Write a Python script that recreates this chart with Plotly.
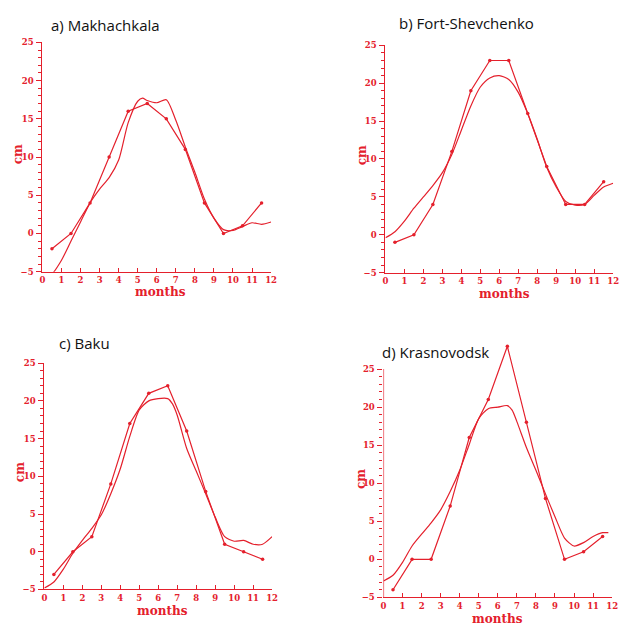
import plotly.graph_objects as go

# ---------------- data ----------------
months_obs = [0.5, 1.5, 2.5, 3.5, 4.5, 5.5, 6.5, 7.5, 8.5, 9.5, 10.5, 11.5]

titles = ["a) Makhachkala", "b) Fort-Shevchenko", "c) Baku", "d) Krasnovodsk"]

obs_a = [-2, 0, 4, 10, 16, 17, 15, 11, 4, 0, 1, 4]
obs_b = [-1, 0, 4, 11, 19, 23, 23, 16, 9, 4, 4, 7]
obs_c = [-3, 0, 2, 9, 17, 21, 22, 16, 8, 1, 0, -1]
obs_d = [-4, 0, 0, 7, 16, 21, 28, 18, 8, 0, 1, 3]

fit_x_a = [0, 0.5, 1, 1.5, 2, 2.5, 3, 3.5, 4, 4.5, 5, 5.25, 5.5, 6, 6.5, 7, 7.5, 8, 8.5, 9, 9.5, 10, 10.5, 11, 11.5, 12]
fit_a = [-5.8, -5.3, -3.5, -1.0, 1.5, 4.0, 5.8, 7.3, 9.6, 14.5, 17.3, 17.7, 17.4, 17.1, 17.5, 14.8, 11.3, 8.0, 4.5, 2.0, 0.5, 0.4, 0.9, 1.4, 1.2, 1.5]

fit_x_b = [0, 0.5, 1, 1.5, 2, 2.5, 3, 3.5, 4, 4.5, 5, 5.5, 6, 6.5, 7, 7.5, 8, 8.5, 9, 9.5, 10, 10.5, 11, 11.5, 12]
fit_b = [-0.4, 0.4, 1.8, 3.5, 5.0, 6.5, 8.2, 10.6, 13.8, 17.0, 19.5, 20.7, 21.0, 20.5, 18.8, 16.0, 12.6, 8.9, 6.3, 4.4, 3.9, 4.0, 5.2, 6.3, 6.8]

fit_x_c = [0, 0.5, 1, 1.5, 2, 2.5, 3, 3.5, 4, 4.5, 5, 5.5, 6, 6.5, 6.75, 7, 7.5, 8, 8.5, 9, 9.5, 10, 10.5, 11, 11.5, 12]
fit_c = [-4.8, -4.0, -2.3, -0.2, 1.5, 3.1, 4.9, 7.7, 11.0, 15.3, 18.8, 20.0, 20.3, 20.3, 19.6, 18.1, 13.7, 10.7, 7.7, 4.6, 2.0, 1.4, 1.5, 1.0, 1.0, 2.0]

fit_x_d = [0, 0.5, 1, 1.5, 2, 2.5, 3, 3.5, 4, 4.5, 5, 5.5, 6, 6.5, 6.75, 7, 7.5, 8, 8.5, 9, 9.5, 10, 10.5, 11, 11.5, 11.8]
fit_d = [-2.85, -2.1, -0.4, 1.75, 3.3, 4.8, 6.5, 8.9, 11.7, 15.1, 18.5, 19.8, 20.0, 20.2, 19.6, 18.1, 14.7, 11.7, 8.6, 5.6, 2.8, 1.75, 2.2, 3.0, 3.5, 3.5]

x_ticks = list(range(0, 13))
y_ticks = [-5, 0, 5, 10, 15, 20, 25]
y_minor = list(range(-5, 26))

# ---------------- layout geometry (pixels) ----------------
W, H = 629, 625
RED = "rgb(228,32,44)"

panels = [
    dict(l=40, r=272, top=38, bot=271, ymax=25, tx=47, ty=20, cmx=15, cmy=152, mx=160, my=292),
    dict(l=388, r=619, top=41, bot=272, ymax=25, tx=400, ty=18, cmx=364, cmy=153, mx=509, my=294),
    dict(l=42, r=273, top=364, bot=594, ymax=25, tx=55, ty=343, cmx=18, cmy=475, mx=162, my=616),
    dict(l=386, r=618, top=344.5, bot=602, ymax=28.3, tx=382, ty=353, cmx=363, cmy=482, mx=502, my=624),
]

obs_all = [obs_a, obs_b, obs_c, obs_d]
fits = [(fit_x_a, fit_a), (fit_x_b, fit_b), (fit_x_c, fit_c), (fit_x_d, fit_d)]

fig = go.Figure()
layout = dict(
    width=W, height=H, margin=dict(l=0, r=0, t=0, b=0),
    paper_bgcolor="white", plot_bgcolor="white", showlegend=False,
)
annotations = []
shapes = []

tickfont = dict(family="DejaVu Serif", size=8.5, color=RED, weight="bold")

for i, p in enumerate(panels):
    n = "" if i == 0 else str(i + 1)
    xa, ya = "x" + n, "y" + n
    fx, fy = fits[i]
    fig.add_trace(go.Scatter(x=fx, y=fy, xaxis=xa, yaxis=ya, mode="lines",
                             line=dict(color=RED, width=1.2, shape="spline", smoothing=0.7),
                             hoverinfo="skip"))
    fig.add_trace(go.Scatter(x=months_obs, y=obs_all[i], xaxis=xa, yaxis=ya, mode="lines+markers",
                             line=dict(color=RED, width=1.2), marker=dict(color=RED, size=3.5),
                             hoverinfo="skip"))
    layout["xaxis" + n] = dict(
        domain=[p["l"] / W, p["r"] / W], anchor=ya, range=[0, 12],
        tickvals=x_ticks, ticks="inside", ticklen=4, tickcolor=RED, tickwidth=1,
        showline=True, linecolor=RED, linewidth=1.2, showgrid=False, zeroline=False,
        tickfont=tickfont, ticklabelstandoff=0,
    )
    layout["yaxis" + n] = dict(
        domain=[1 - p["bot"] / H, 1 - p["top"] / H], anchor=xa, range=[-5, p["ymax"]],
        tickvals=y_ticks, ticks="outside", ticklen=5, tickcolor=RED, tickwidth=1,
        minor=dict(tickvals=y_minor, ticks="outside", ticklen=3, tickcolor=RED, tickwidth=1),
        showline=(p["ymax"] == 25), linecolor=RED, linewidth=1.2, showgrid=False, zeroline=False,
        tickfont=tickfont, ticklabelstandoff=1,
    )
    if p["ymax"] != 25:
        shapes.append(dict(type="line", xref=xa, yref=ya, x0=0, x1=0, y0=-5, y1=25,
                           line=dict(color=RED, width=1.2)))
    annotations.append(dict(text=titles[i], xref="paper", yref="paper",
                            x=p["tx"] / W, y=1 - p["ty"] / H, xanchor="left", yanchor="middle",
                            showarrow=False,
                            font=dict(family="Open Sans", size=15, color="#111111")))
    annotations.append(dict(text="cm", xref="paper", yref="paper",
                            x=p["cmx"] / W, y=1 - p["cmy"] / H, xanchor="center", yanchor="middle",
                            textangle=-90, showarrow=False,
                            font=dict(family="DejaVu Serif", size=12, color=RED, weight="bold")))
    annotations.append(dict(text="months", xref="paper", yref="paper",
                            x=p["mx"] / W, y=1 - p["my"] / H, xanchor="center", yanchor="middle",
                            showarrow=False,
                            font=dict(family="DejaVu Serif", size=12, color=RED, weight="bold")))

layout["annotations"] = annotations
layout["shapes"] = shapes
fig.update_layout(**layout)
fig.write_html("out.html")
